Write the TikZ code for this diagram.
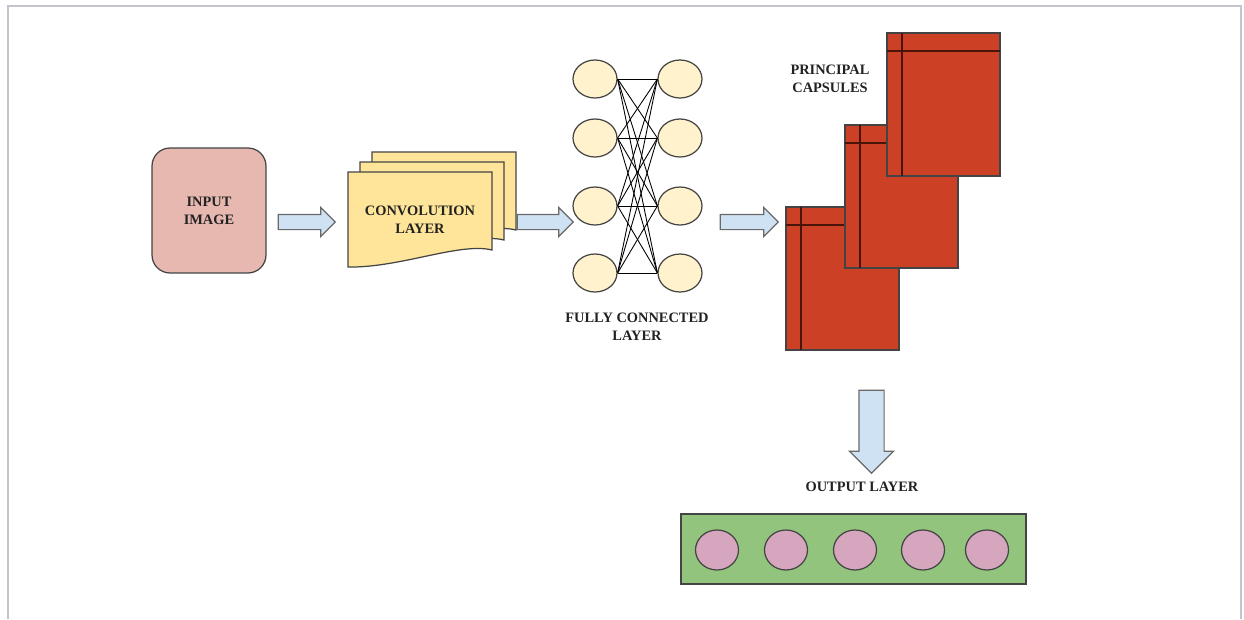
\documentclass[tikz,border=0pt]{standalone}
\usepackage{fontspec}
\setmainfont{Liberation Serif}
\usepackage{xcolor}
\usetikzlibrary{shapes.geometric,shapes.arrows}

\definecolor{inpink}{HTML}{E6B8AF}
\definecolor{convyel}{HTML}{FFE599}
\definecolor{fccream}{HTML}{FFF2CC}
\definecolor{arrblue}{HTML}{CFE2F3}
\definecolor{capred}{HTML}{CC4125}
\definecolor{capdark}{HTML}{4A1409}
\definecolor{outgreen}{HTML}{93C47D}
\definecolor{outpink}{HTML}{D5A6BD}
\definecolor{edge}{HTML}{444444}
\definecolor{txt}{HTML}{222222}
\definecolor{framegray}{HTML}{C4C4CC}

\begin{document}
\begin{tikzpicture}[
  x=0.02cm, y=-0.02cm,
  lab/.style={font=\fontsize{8.2}{10.2}\selectfont\bfseries, text=txt, align=center},
  blockarrow/.style={single arrow, draw=edge!80, fill=arrblue, line width=0.7pt,
    inner xsep=0pt, inner ysep=0.14cm, single arrow head extend=0.14cm,
    single arrow head indent=0pt},
  sheet/.style={draw=edge, fill=convyel, line width=0.7pt},
  neuron/.style={ellipse, draw=edge, fill=fccream, line width=0.7pt,
    minimum width=0.88cm, minimum height=0.76cm, inner sep=0pt},
  link/.style={black, line width=0.5pt},
  caps/.style={draw=edge, fill=capred, line width=0.7pt},
  capline/.style={capdark, line width=0.9pt},
  unit/.style={ellipse, draw=edge, fill=outpink, line width=0.7pt,
    minimum width=0.86cm, minimum height=0.8cm, inner sep=0pt}
]
\useasboundingbox (0,0) rectangle (1244,619);
\draw[framegray, line width=1pt] (8,619) -- (8,6) -- (1241,6) -- (1241,619);

% input
\node[draw=edge, fill=inpink, line width=0.7pt, rounded corners=0.36cm,
  minimum width=2.28cm, minimum height=2.5cm, lab] (input) at (209,210.5) {INPUT\\IMAGE};

% convolution sheets, back to front
\foreach \s in {2,1,0} {
  \draw[sheet, shift={({\s*12},{-\s*10})}] (348,172) -- (492,172) -- (492,250)
    .. controls (460,242) and (400,268) .. (348,267) -- cycle;
}
\node[lab] (conv) at (420,220) {CONVOLUTION\\LAYER};

% fully connected
\foreach \i/\y in {1/79,2/138,3/206,4/273} {
  \node[neuron] (l\i) at (595,\y) {};
  \node[neuron] (r\i) at (680,\y) {};
}
\foreach \i in {1,...,4}
  \foreach \j in {1,...,4}
    \draw[link] (l\i.east) -- (r\j.west);
\node[lab] (fclabel) at (637,327) {FULLY CONNECTED\\LAYER};

% arrows
\node[blockarrow, minimum height=1.14cm] (a1) at (303,222) {};
\node[blockarrow, minimum height=1.12cm] (a2) at (541.5,222) {};
\node[blockarrow, minimum height=1.16cm] (a3) at (745.5,222) {};

% principal capsules
\foreach \cx/\cy in {786/207, 845/125, 887/33} {
  \draw[caps] (\cx,\cy) rectangle ++(113,143);
  \draw[capline] (\cx+15,\cy) -- (\cx+15,\cy+143) (\cx,\cy+18) -- (\cx+113,\cy+18);
}
\node[lab] (capslabel) at (830,79) {PRINCIPAL\\CAPSULES};

% output
\node[blockarrow, rotate=-90, minimum height=1.66cm, inner ysep=0.24cm,
  single arrow head extend=0.19cm] (a4) at (871.5,425.5) {};
\node[lab] (outlabel) at (862,487) {OUTPUT LAYER};
\node[draw=edge, fill=outgreen, line width=0.7pt, minimum width=6.9cm,
  minimum height=1.4cm] (outbox) at (853.5,549) {};
\foreach \k/\x in {1/717,2/786,3/855,4/923,5/987}
  \node[unit] (o\k) at (\x,550) {};
\end{tikzpicture}
\end{document}
